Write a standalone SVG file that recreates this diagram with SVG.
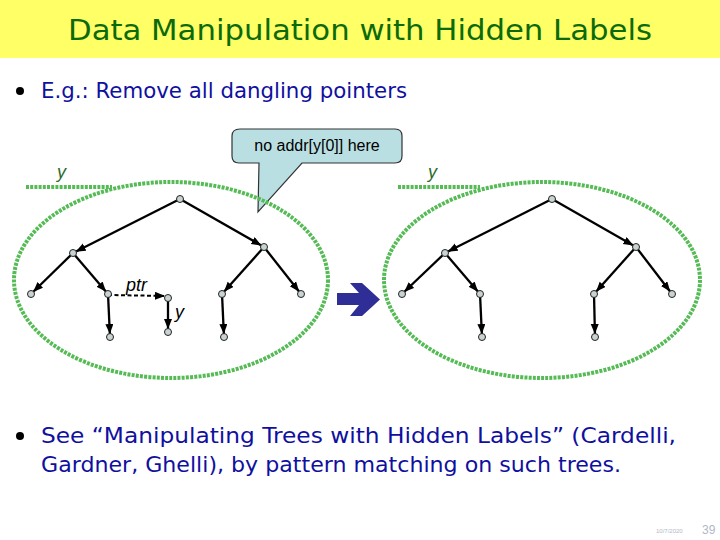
<svg xmlns="http://www.w3.org/2000/svg" width="720" height="540" viewBox="0 0 720 540">
<style>
.title{font-family:"DejaVu Sans",sans-serif;font-size:29px;fill:#0b6b0b}
.body{font-family:"DejaVu Sans",sans-serif;font-size:21px;fill:#1010a0}
.dot{fill:none;stroke:#55bb55;stroke-width:4;stroke-dasharray:3 1.2}
.edge{stroke:#000;stroke-width:2.3;fill:none;marker-end:url(#ah)}
.dash{stroke:#000;stroke-width:2;fill:none;stroke-dasharray:4 2.5;marker-end:url(#ah)}
.node{fill:#c9d3d3;stroke:#222;stroke-width:1}
.lbl{font-family:"Liberation Sans",Arial,sans-serif;font-style:italic;font-size:18px}
</style>
<defs>
<marker id="ah" markerUnits="userSpaceOnUse" markerWidth="14" markerHeight="9" refX="13" refY="4" orient="auto">
<path d="M0,0 L10,4 L0,8 z" fill="#000"/>
</marker>
</defs>
<rect width="720" height="540" fill="#fff"/>
<rect width="720" height="58" fill="#ffff66"/>
<text class="title" x="360" y="40" text-anchor="middle" textLength="584" lengthAdjust="spacingAndGlyphs">Data Manipulation with Hidden Labels</text>
<circle cx="20" cy="91" r="4" fill="#000"/>
<text class="body" x="41" y="98" textLength="366" lengthAdjust="spacingAndGlyphs">E.g.: Remove all dangling pointers</text>

<g id="callout">
<path d="M240,129 H395 Q402,129 402,136 V156 Q402,163 395,163 H302 L258,212 L259,163 H239 Q232,163 232,156 V136 Q232,129 240,129 Z" fill="#b9dfe2" stroke="#333" stroke-width="1.2"/>
<text x="317" y="151" text-anchor="middle" font-family="Liberation Sans,Arial,sans-serif" font-size="16" fill="#000">no addr[y[0]] here</text>
</g>

<g id="regions">
<ellipse class="dot" cx="171" cy="280" rx="157" ry="98"/>
<line class="dot" x1="26" y1="187" x2="112" y2="187"/>
<ellipse class="dot" cx="542" cy="280" rx="158" ry="98"/>
<line class="dot" x1="398" y1="187" x2="480" y2="187"/>
</g>
<text class="lbl" x="57" y="178" fill="#2a6a2a">y</text>
<text class="lbl" x="428" y="178" fill="#2a6a2a">y</text>
<text class="lbl" x="126" y="291" fill="#000">ptr</text>
<text class="lbl" x="175" y="318" fill="#000">y</text>

<g id="connectors">
<line class="edge" x1="180" y1="199" x2="73" y2="253"/>
<line class="edge" x1="180" y1="199" x2="264" y2="247"/>
<line class="edge" x1="73" y1="253" x2="31" y2="294"/>
<line class="edge" x1="73" y1="253" x2="108" y2="294"/>
<line class="edge" x1="108" y1="294" x2="110" y2="337"/>
<line class="dash" x1="108" y1="295" x2="168" y2="296"/>
<line class="edge" x1="168" y1="298" x2="168" y2="332"/>
<line class="edge" x1="264" y1="247" x2="222" y2="294"/>
<line class="edge" x1="222" y1="294" x2="224" y2="337"/>
<line class="edge" x1="264" y1="247" x2="301" y2="294"/>
<line class="edge" x1="552" y1="199" x2="445" y2="253"/>
<line class="edge" x1="552" y1="199" x2="636" y2="247"/>
<line class="edge" x1="445" y1="253" x2="402" y2="294"/>
<line class="edge" x1="445" y1="253" x2="480" y2="294"/>
<line class="edge" x1="480" y1="294" x2="482" y2="337"/>
<line class="edge" x1="636" y1="247" x2="594" y2="294"/>
<line class="edge" x1="594" y1="294" x2="595" y2="337"/>
<line class="edge" x1="636" y1="247" x2="672" y2="294"/>
</g>

<g id="n1"><circle class="node" cx="180" cy="199" r="3.5"/></g>
<g id="n2"><circle class="node" cx="73" cy="253" r="3.5"/></g>
<g id="n3"><circle class="node" cx="264" cy="247" r="3.5"/></g>
<g id="n4"><circle class="node" cx="31" cy="294" r="3.5"/></g>
<g id="n5"><circle class="node" cx="108" cy="294" r="3.5"/></g>
<g id="n6"><circle class="node" cx="110" cy="337" r="3.5"/></g>
<g id="n7"><circle class="node" cx="168" cy="298" r="3.5"/></g>
<g id="n8"><circle class="node" cx="168" cy="332" r="3.5"/></g>
<g id="n9"><circle class="node" cx="222" cy="294" r="3.5"/></g>
<g id="n10"><circle class="node" cx="224" cy="337" r="3.5"/></g>
<g id="n11"><circle class="node" cx="301" cy="294" r="3.5"/></g>
<g id="m1"><circle class="node" cx="552" cy="199" r="3.5"/></g>
<g id="m2"><circle class="node" cx="445" cy="253" r="3.5"/></g>
<g id="m3"><circle class="node" cx="636" cy="247" r="3.5"/></g>
<g id="m4"><circle class="node" cx="402" cy="294" r="3.5"/></g>
<g id="m5"><circle class="node" cx="480" cy="294" r="3.5"/></g>
<g id="m6"><circle class="node" cx="482" cy="337" r="3.5"/></g>
<g id="m7"><circle class="node" cx="594" cy="294" r="3.5"/></g>
<g id="m8"><circle class="node" cx="595" cy="337" r="3.5"/></g>
<g id="m9"><circle class="node" cx="672" cy="294" r="3.5"/></g>

<g id="bigarrow">
<polygon points="337,293 359,293 350,283 362,283 380,299.5 362,316 350,316 359,305 337,305" fill="#2e2e96"/>
</g>

<circle cx="20" cy="436" r="4" fill="#000"/>
<text class="body" x="41" y="443" textLength="635" lengthAdjust="spacingAndGlyphs">See “Manipulating Trees with Hidden Labels” (Cardelli,</text>
<text class="body" x="41" y="472" textLength="580" lengthAdjust="spacingAndGlyphs">Gardner, Ghelli), by pattern matching on such trees.</text>

<text x="656" y="533" font-family="Liberation Sans,Arial,sans-serif" font-size="6" fill="#b0b8c8">10/7/2020</text>
<text x="702" y="534" font-family="Liberation Sans,Arial,sans-serif" font-size="12" fill="#b0b8c8">39</text>
</svg>
